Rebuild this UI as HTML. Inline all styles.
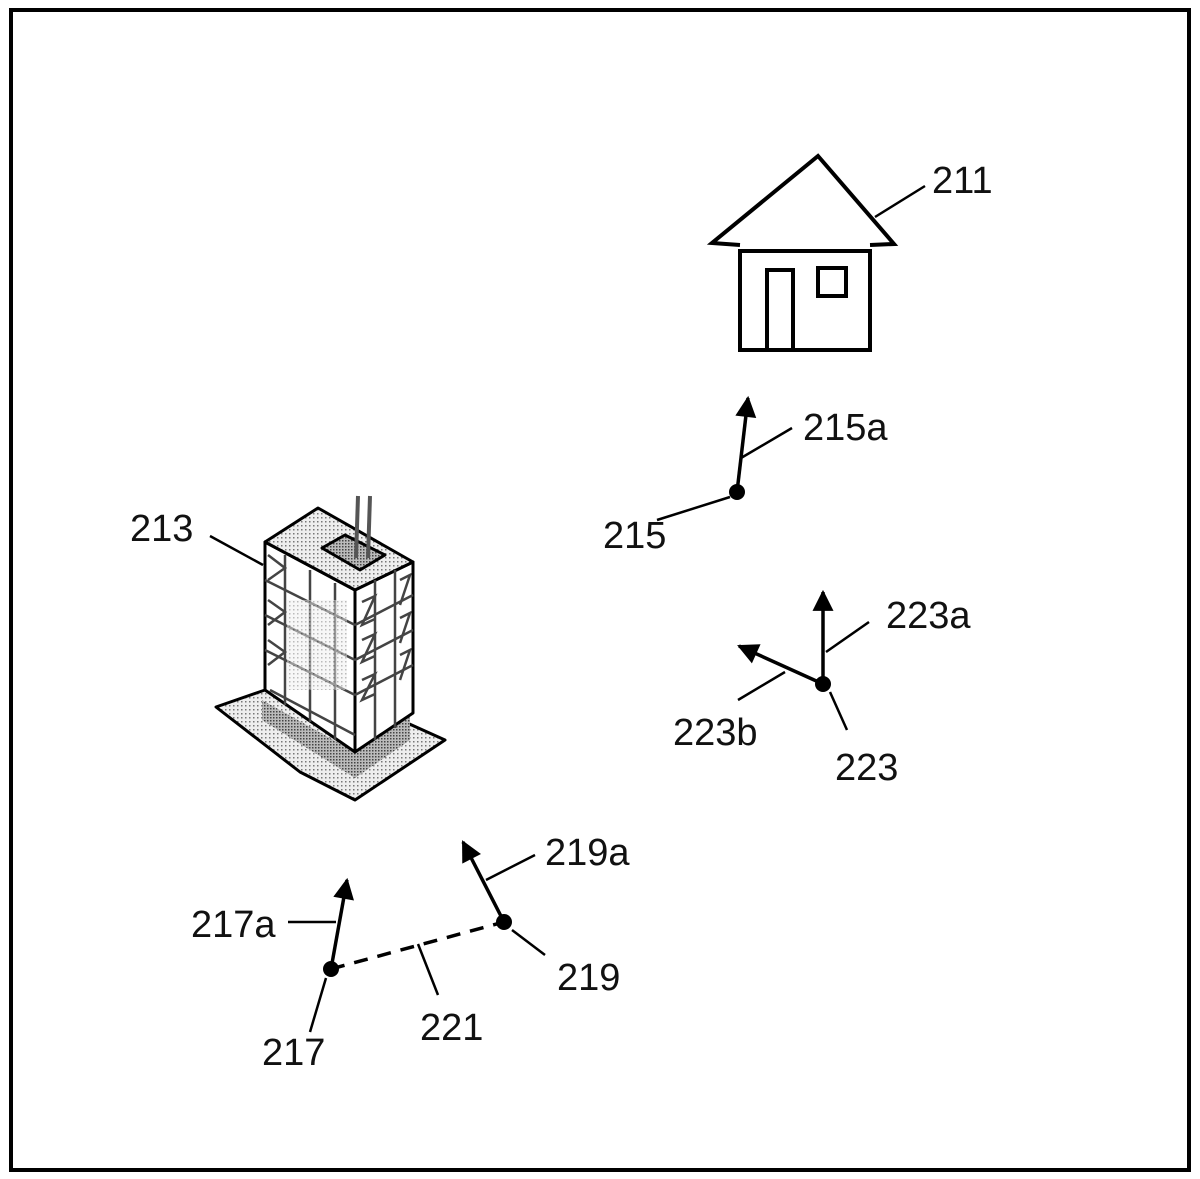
<!DOCTYPE html>
<html><head><style>
html,body{margin:0;padding:0;background:#fff;}
svg{display:block;}
text{font-family:"Liberation Sans",Arial,sans-serif;font-size:38px;fill:#111;}
</style></head><body>
<svg width="1200" height="1179" viewBox="0 0 1200 1179" xmlns="http://www.w3.org/2000/svg">
<defs>
<marker id="ah" viewBox="0 0 10 10" refX="9" refY="5" markerWidth="6.5" markerHeight="6" orient="auto" markerUnits="strokeWidth">
<path d="M0,0 L10,5 L0,10 z" fill="#000"/></marker>
<pattern id="dots" width="4" height="4" patternUnits="userSpaceOnUse"><rect width="4" height="4" fill="#eee"/><rect x="1" y="1" width="1.5" height="1.5" fill="#777"/></pattern>
<pattern id="dots2" width="3" height="3" patternUnits="userSpaceOnUse"><rect width="3" height="3" fill="#bbb"/><rect x="0" y="0" width="1.5" height="1.5" fill="#444"/></pattern>
</defs>
<rect x="11" y="10" width="1178" height="1160" fill="none" stroke="#000" stroke-width="4"/>

<!-- House -->
<g fill="none" stroke="#000" stroke-width="4" stroke-linejoin="miter">
<path d="M740,245 L712,243 L818,156 L894,244 L870,245"/>
<rect x="740" y="251" width="130" height="99"/>
<path d="M767,350 V270 H793 V350"/>
<rect x="818" y="268" width="28" height="28"/>
</g>
<line x1="875" y1="217" x2="925" y2="186" stroke="#000" stroke-width="2.5"/>

<!-- Building -->
<g stroke="#000" stroke-width="3" stroke-linejoin="round">
<path d="M216,707 L300,772 L355,800 L445,740 L405,722 L265,690 Z" fill="url(#dots)"/>
<path d="M262,720 L355,778 L410,740 L410,715 L355,752 L262,700 Z" fill="url(#dots2)" stroke="none"/>
<path d="M265,542 L265,690 L355,752 L355,590 Z" fill="#fff"/>
<path d="M355,590 L355,752 L413,713 L413,562 Z" fill="#fff"/>
<path d="M265,542 L318,508 L413,562 L355,590 Z" fill="url(#dots)"/>
<path d="M322,548 L345,535 L385,555 L360,570 Z" fill="url(#dots2)"/>
</g>
<g stroke="#555" stroke-width="4">
<line x1="356" y1="558" x2="358" y2="496"/><line x1="368" y1="558" x2="370" y2="496"/>
</g>
<g stroke="#444" stroke-width="2.5" fill="none">
<path d="M285,555 V705 M310,570 V722 M335,583 V740"/>
<path d="M375,580 V740 M395,570 V728"/>
<path d="M265,580 L355,625 M265,615 L355,660 M265,650 L355,695 M270,690 L355,735"/>
<path d="M355,625 L413,595 M355,660 L413,630 M355,695 L413,665"/>
<path d="M268,555 L285,568 L268,580 M268,600 L285,612 L268,625 M268,640 L285,652 L268,665"/>
<path d="M362,602 L375,596 L362,625 L375,619 M362,640 L375,634 L362,662 L375,656 M362,680 L375,674 L362,700 L375,694"/>
<path d="M400,580 L410,575 L400,605 M400,618 L410,613 L400,643 M400,655 L410,650 L400,680"/>
</g>
<rect x="287" y="600" width="60" height="90" fill="url(#dots)" opacity="0.5"/>
<line x1="210" y1="536" x2="263" y2="565" stroke="#000" stroke-width="2.5"/>

<!-- Vectors -->
<g stroke="#000" stroke-width="3.5" fill="none">
<line x1="737" y1="492" x2="748" y2="398" marker-end="url(#ah)"/>
<line x1="823" y1="684" x2="823" y2="592" marker-end="url(#ah)"/>
<line x1="823" y1="684" x2="739" y2="646" marker-end="url(#ah)"/>
<line x1="331" y1="969" x2="347" y2="880" marker-end="url(#ah)"/>
<line x1="504" y1="922" x2="463" y2="842" marker-end="url(#ah)"/>
<line x1="331" y1="969" x2="504" y2="922" stroke-dasharray="14,10"/>
</g>
<g fill="#000">
<circle cx="737" cy="492" r="8"/><circle cx="823" cy="684" r="8"/>
<circle cx="331" cy="969" r="8"/><circle cx="504" cy="922" r="8"/>
</g>
<g stroke="#000" stroke-width="2.5">
<line x1="741" y1="458" x2="792" y2="428"/>
<line x1="657" y1="520" x2="730" y2="497"/>
<line x1="826" y1="652" x2="869" y2="622"/>
<line x1="738" y1="700" x2="785" y2="672"/>
<line x1="830" y1="692" x2="847" y2="730"/>
<line x1="288" y1="922" x2="336" y2="922"/>
<line x1="326" y1="978" x2="310" y2="1032"/>
<line x1="486" y1="880" x2="535" y2="855"/>
<line x1="512" y1="930" x2="545" y2="955"/>
<path d="M418,944 L438,995"/>
</g>

<text x="932" y="193">211</text>
<text x="803" y="440">215a</text>
<text x="603" y="548">215</text>
<text x="130" y="541">213</text>
<text x="886" y="628">223a</text>
<text x="673" y="745">223b</text>
<text x="835" y="780">223</text>
<text x="545" y="865">219a</text>
<text x="191" y="937">217a</text>
<text x="557" y="990">219</text>
<text x="262" y="1065">217</text>
<text x="420" y="1040">221</text>
</svg>
</body></html>
